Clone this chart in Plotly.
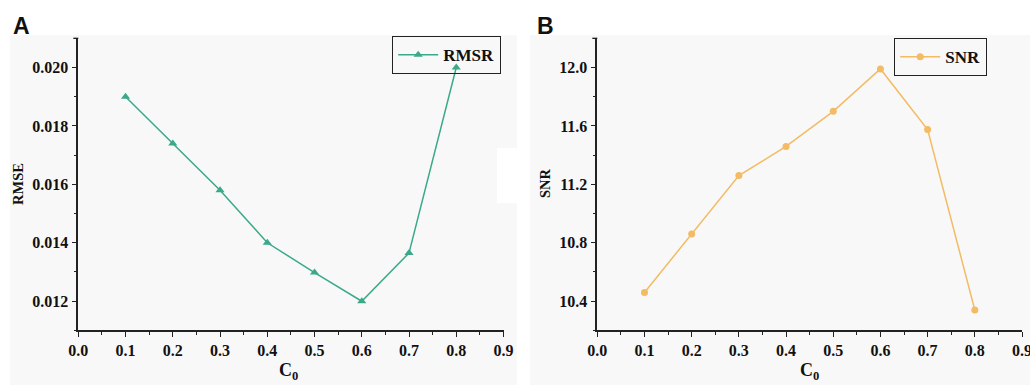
import plotly.graph_objects as go

c0 = [0.1, 0.2, 0.3, 0.4, 0.5, 0.6, 0.7, 0.8]
rmse = [0.0190, 0.0174, 0.0158, 0.0140, 0.01298, 0.0120, 0.01365, 0.0200]
snr = [10.46, 10.86, 11.26, 11.46, 11.70, 11.99, 11.575, 10.34]

x_ticks = [0.0, 0.1, 0.2, 0.3, 0.4, 0.5, 0.6, 0.7, 0.8, 0.9]
rmse_ticks = [0.012, 0.014, 0.016, 0.018, 0.020]
snr_ticks = [10.4, 10.8, 11.2, 11.6, 12.0]

TEAL = "#3aa98a"
ORANGE = "#f2bb64"
BG = "#f8f8f8"
SERIF = "Liberation Serif"
SANS = "Liberation Sans"

W, H = 1030, 385

def px(x):
    return x / W

def py(y):
    return 1 - y / H

fig = go.Figure()

fig.add_trace(go.Scatter(
    x=c0, y=rmse, mode="lines+markers", name="<b>RMSR</b>",
    line=dict(color=TEAL, width=1.5),
    marker=dict(symbol="triangle-up", size=8, color=TEAL),
    xaxis="x", yaxis="y", legend="legend",
))
fig.add_trace(go.Scatter(
    x=c0, y=snr, mode="lines+markers", name="<b>SNR</b>",
    line=dict(color=ORANGE, width=1.5),
    marker=dict(symbol="circle", size=7, color=ORANGE),
    xaxis="x2", yaxis="y2", legend="legend2",
))

tickfont = dict(family=SERIF, size=16, color="#111")
minor_common = dict(ticks="outside", ticklen=3, tickcolor="#222", tickwidth=1.2)
common_x = dict(
    range=[0, 0.9], tickvals=x_ticks, ticktext=[f"<b>{v:.1f}</b>" for v in x_ticks],
    showline=True, linecolor="#222", linewidth=1.5, ticks="outside", ticklen=5,
    tickwidth=1.3, tickcolor="#222", showgrid=False, zeroline=False, automargin=False,
    ticklabeloverflow="allow",
    tickfont=tickfont, minor=dict(dtick=0.05, **minor_common),
)
common_y = dict(
    showline=True, linecolor="#222", linewidth=1.5, ticks="outside", ticklen=5,
    tickwidth=1.3, tickcolor="#222", showgrid=False, zeroline=False, automargin=False,
    ticklabeloverflow="allow",
    tickfont=tickfont,
)

ybot, ytop = py(330.4), py(38.3)
AX0, AX1 = 78.3, 503.5
BX0, BX1 = 597.3, 1022
fig.update_layout(
    template="none",
    width=W, height=H, margin=dict(l=0, r=0, t=0, b=0, autoexpand=False),
    paper_bgcolor="white", plot_bgcolor="rgba(0,0,0,0)",
    showlegend=True,
    xaxis=dict(domain=[px(AX0), px(AX1)], anchor="y", **common_x),
    yaxis=dict(domain=[ybot, ytop], anchor="x", range=[0.011, 0.021],
               tickvals=rmse_ticks, ticktext=[f"<b>{v:.3f}</b>" for v in rmse_ticks],
               minor=dict(dtick=0.001, **minor_common), **common_y),
    xaxis2=dict(domain=[px(BX0), px(BX1)], anchor="y2", **common_x),
    yaxis2=dict(domain=[ybot, ytop], anchor="x2", range=[10.2, 12.2],
                tickvals=snr_ticks, ticktext=[f"<b>{v:.1f}</b>" for v in snr_ticks],
                minor=dict(dtick=0.2, **minor_common), **common_y),
    legend=dict(x=px(501), y=py(36), xanchor="right", yanchor="top",
                bgcolor="rgba(0,0,0,0)", bordercolor="#222", borderwidth=1.2,
                font=dict(family=SERIF, size=17, color="#111"),
                itemwidth=40, tracegroupgap=0),
    legend2=dict(x=px(987), y=py(38), xanchor="right", yanchor="top",
                 bgcolor="rgba(0,0,0,0)", bordercolor="#222", borderwidth=1.2,
                 font=dict(family=SERIF, size=17, color="#111"),
                 itemwidth=40, tracegroupgap=0),
)

shapes = [
    dict(type="rect", xref="paper", yref="paper", x0=px(10), x1=px(517), y0=0, y1=py(35),
         fillcolor=BG, line=dict(width=0), layer="below"),
    dict(type="rect", xref="paper", yref="paper", x0=px(530), x1=1, y0=0, y1=py(35),
         fillcolor=BG, line=dict(width=0), layer="below"),
    dict(type="rect", xref="paper", yref="paper", x0=px(497), x1=px(529), y0=py(203), y1=py(148),
         fillcolor="white", line=dict(width=0), layer="below"),
    dict(type="line", xref="paper", yref="paper", x0=px(AX0 - 5), x1=px(AX0), y0=ytop, y1=ytop,
         line=dict(color="#222", width=1.3)),
    dict(type="line", xref="paper", yref="paper", x0=px(BX0 - 5), x1=px(BX0), y0=ytop, y1=ytop,
         line=dict(color="#222", width=1.3)),
]
fig.update_layout(shapes=shapes)

def ann(text, x, y, size, family, angle=0):
    return dict(text=text, x=px(x), y=py(y), xref="paper", yref="paper",
                xanchor="center", yanchor="middle", textangle=angle,
                showarrow=False, font=dict(family=family, size=size, color="#111"))

annotations = [
    ann("<b>A</b>", 21, 26, 23, SANS),
    ann("<b>B</b>", 545, 26, 23, SANS),
    ann("<b>RMSE</b>", 18, 184, 14.5, SERIF, -90),
    ann("<b>SNR</b>", 545, 183, 14.5, SERIF, -90),
    ann("<b>C<sub>0</sub></b>", 288, 371, 18, SERIF),
    ann("<b>C<sub>0</sub></b>", 809, 371, 18, SERIF),
]
fig.update_layout(annotations=annotations)

fig.write_html("out.html")
